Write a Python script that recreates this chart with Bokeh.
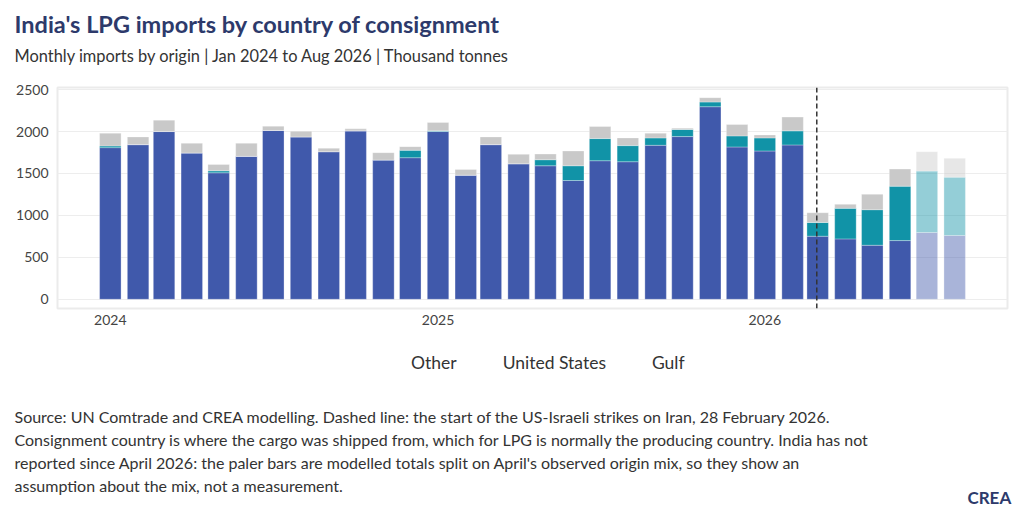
from datetime import datetime
import pandas as pd
from bokeh.plotting import figure
from bokeh.layouts import column
from bokeh.models import (ColumnDataSource, Range1d, FixedTicker, DatetimeTickFormatter,
                          Span, Legend, LegendItem, Title, CDSView, IndexFilter)
from bokeh.embed import file_html
from bokeh.resources import INLINE

# ---------------- data (thousand tonnes) ----------------
months = list(pd.date_range("2024-01-01", periods=32, freq="MS"))
gulf = [1808, 1844, 2000, 1744, 1508, 1704, 2012, 1936, 1760, 2008, 1660, 1688,
        2000, 1480, 1844, 1616, 1592, 1416, 1652, 1640, 1836, 1940, 2296, 1816,
        1768, 1840, 752, 720, 644, 700, 796, 760]
united_states = [20, 0, 0, 0, 24, 0, 0, 0, 0, 0, 0, 88,
                 8, 0, 0, 0, 72, 176, 264, 192, 88, 84, 56, 132,
                 156, 168, 164, 364, 424, 648, 732, 696]
other = [152, 92, 136, 116, 76, 156, 52, 68, 40, 24, 88, 44,
         100, 68, 92, 112, 68, 176, 144, 92, 56, 16, 52, 136,
         36, 164, 116, 48, 184, 204, 232, 224]
modelled = [False] * 30 + [True, True]
year_ticks = [datetime(2024, 1, 1), datetime(2025, 1, 1), datetime(2026, 1, 1)]
y_ticks = [0, 500, 1000, 1500, 2000, 2500]
strike_date = datetime(2026, 2, 28)
series_labels = ["Other", "United States", "Gulf"]

title_text = "India's LPG imports by country of consignment"
subtitle_text = "Monthly imports by origin | Jan 2024 to Aug 2026 | Thousand tonnes"
caption_lines = [
    "Source: UN Comtrade and CREA modelling. Dashed line: the start of the US-Israeli strikes on Iran, 28 February 2026.",
    "Consignment country is where the cargo was shipped from, which for LPG is normally the producing country. India has not",
    "reported since April 2026: the paler bars are modelled totals split on April's observed origin mix, so they show an",
    "assumption about the mix, not a measurement.",
]
brand = "CREA"

# ---------------- styling ----------------
FONT = "Lato"
C_GULF = "#4059AB"
C_US = "#1193A7"
C_OTHER = "#C9C9C9"
NAVY = "#2D3A6B"
TXT = "#333333"
MAIN_H = 335
FOOT_H = 512 - MAIN_H
X0, X1 = datetime(2023, 11, 3), datetime(2026, 9, 29)

obs = ColumnDataSource({"x": [m for m, f in zip(months, modelled) if not f],
                        "Gulf": [v for v, f in zip(gulf, modelled) if not f],
                        "US": [v for v, f in zip(united_states, modelled) if not f],
                        "Other": [v for v, f in zip(other, modelled) if not f]})
mod = ColumnDataSource({"x": [m for m, f in zip(months, modelled) if f],
                        "Gulf": [v for v, f in zip(gulf, modelled) if f],
                        "US": [v for v, f in zip(united_states, modelled) if f],
                        "Other": [v for v, f in zip(other, modelled) if f]})
bw = 24 * 86400000
OFF = -43  # text left edge at x=14 while the frame starts at x=57


def title(text, size, standoff, align="left", offset=OFF, valign="middle",
          style="normal", color=TXT):
    return Title(text=text, align=align, offset=offset, vertical_align=valign, standoff=standoff,
                 text_font=FONT, text_font_size=size, text_font_style=style, text_color=color)


def no_title(f):
    try:
        f.title = None
    except Exception:
        f.title.text = ""


# ---------------- main chart ----------------
p = figure(width=1024, height=MAIN_H, x_axis_type="datetime",
           x_range=Range1d(X0, X1), y_range=Range1d(-110, 2525),
           output_backend="svg", toolbar_location=None,
           min_border_left=57, min_border_right=17, min_border_top=0, min_border_bottom=27)
no_title(p)
p.background_fill_color = "white"
p.border_fill_color = "white"
p.outline_line_color = "#EBEBEB"
p.outline_line_width = 2

p.vbar_stack(["Gulf", "US", "Other"], x="x", width=bw, source=obs,
             color=[C_GULF, C_US, C_OTHER], line_color="white", line_alpha=0.5, line_width=0.6)
p.vbar_stack(["Gulf", "US", "Other"], x="x", width=bw, source=mod,
             fill_color=[C_GULF, C_US, C_OTHER], fill_alpha=0.45,
             line_color="white", line_alpha=0.5, line_width=0.6)
p.add_layout(Span(location=strike_date, dimension="height", line_color="#333333",
                  line_dash="5 3", line_width=1.5))

p.xaxis.ticker = FixedTicker(ticks=[d.timestamp() * 1000 for d in year_ticks])
p.xaxis.formatter = DatetimeTickFormatter(years="%Y", months="%Y", days="%Y", hours="%Y")
p.yaxis.ticker = FixedTicker(ticks=y_ticks)
for ax in (p.xaxis, p.yaxis):
    ax.axis_line_color = None
    ax.major_tick_line_color = None
    ax.minor_tick_line_color = None
    ax.major_tick_out = 0
    ax.major_tick_in = 0
    ax.major_label_text_font = FONT
    ax.major_label_text_font_size = "14px"
    ax.major_label_text_color = "#444444"
p.yaxis.major_label_standoff = 9
p.xaxis.major_label_standoff = 6
p.xgrid.grid_line_color = None
p.ygrid.grid_line_color = "#EDEDED"
p.ygrid.grid_line_width = 1.2

# header (above panels; first added = nearest the frame)
p.add_layout(title(" ", "10px", 10), "above")
p.add_layout(title(subtitle_text, "16.4px", -3.7), "above")
p.add_layout(title(title_text, "23.5px", 15.8, style="bold", color=NAVY), "above")

# ---------------- footer: legend (in frame) + caption (below panels) ----------------
foot = figure(width=1024, height=FOOT_H, x_axis_type="datetime",
              x_range=Range1d(X0, X1), y_range=Range1d(5000, 6000),
              x_axis_location=None, y_axis_location=None,
              output_backend="svg", toolbar_location=None,
              min_border_left=57, min_border_right=17, min_border_top=0, min_border_bottom=108)
no_title(foot)
foot.outline_line_color = None
foot.xgrid.grid_line_color = None
foot.ygrid.grid_line_color = None
foot.background_fill_color = "white"
foot.border_fill_color = "white"
# same stacked series, filtered out of view here; they only feed the legend swatches
r_leg = foot.vbar_stack(["Gulf", "US", "Other"], x="x", width=bw, source=obs,
                        color=[C_GULF, C_US, C_OTHER], line_color=None)
for r in r_leg:
    r.view = CDSView(filter=IndexFilter(indices=[]))

legend = Legend(items=[LegendItem(label=lab, renderers=[r]) for lab, r in
                       zip(series_labels, [r_leg[2], r_leg[1], r_leg[0]])],
                orientation="horizontal", location=(317, 27),
                glyph_width=30, glyph_height=30, label_standoff=7, spacing=9,
                padding=0, margin=0, border_line_color=None, background_fill_alpha=0,
                label_text_font=FONT, label_text_font_size="17.5px", label_text_color=TXT,
                label_height=30)
foot.add_layout(legend)

for line in caption_lines:
    foot.add_layout(title(line, "16px", 2.1), "below")
foot.add_layout(title(brand, "17px", -21, align="right", offset=-3.7, style="bold", color=NAVY), "below")

layout = column(p, foot, spacing=0)
open("out.html", "w").write(file_html(layout, INLINE))
